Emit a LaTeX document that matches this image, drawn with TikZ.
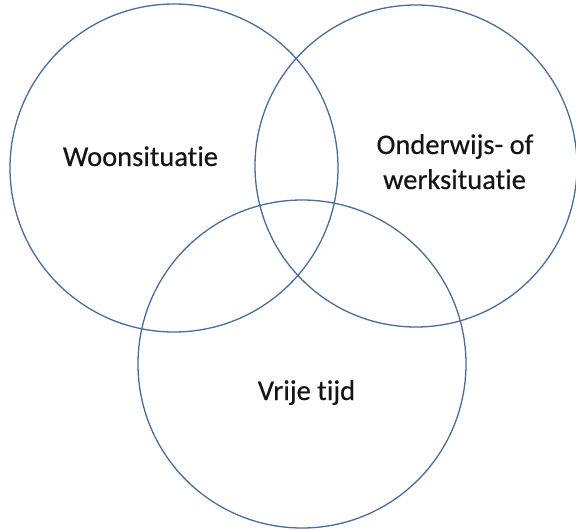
\documentclass[tikz,border=0pt]{standalone}
\usepackage{fontspec}
\setmainfont{Carlito}[Ligatures=NoCommon,FakeBold=0.4]
\definecolor{ring}{HTML}{4A6C99}
\definecolor{txt}{HTML}{141414}
\begin{document}
\begin{tikzpicture}[x=1pt,y=-1pt,
  ring/.style={draw=ring,line width=1.3pt},
  lbl/.style={font=\fontsize{28.5}{34}\selectfont,text=txt,anchor=base,inner sep=0pt}]
\useasboundingbox (0,0) rectangle (576,530);
\draw[ring] (174,168) circle[radius=164];
\draw[ring] (416,166) circle[radius=161];
\draw[ring] (302,364) circle[radius=164];
\node[lbl] (a) at (140.5,166) {Woonsituatie};
\node[lbl] (b1) at (455,154) {Onderwijs- of};
\node[lbl] (b2) at (454.5,189) {werksituatie};
\node[lbl] (c) at (306.5,400) {Vrije tijd};
\end{tikzpicture}
\end{document}
